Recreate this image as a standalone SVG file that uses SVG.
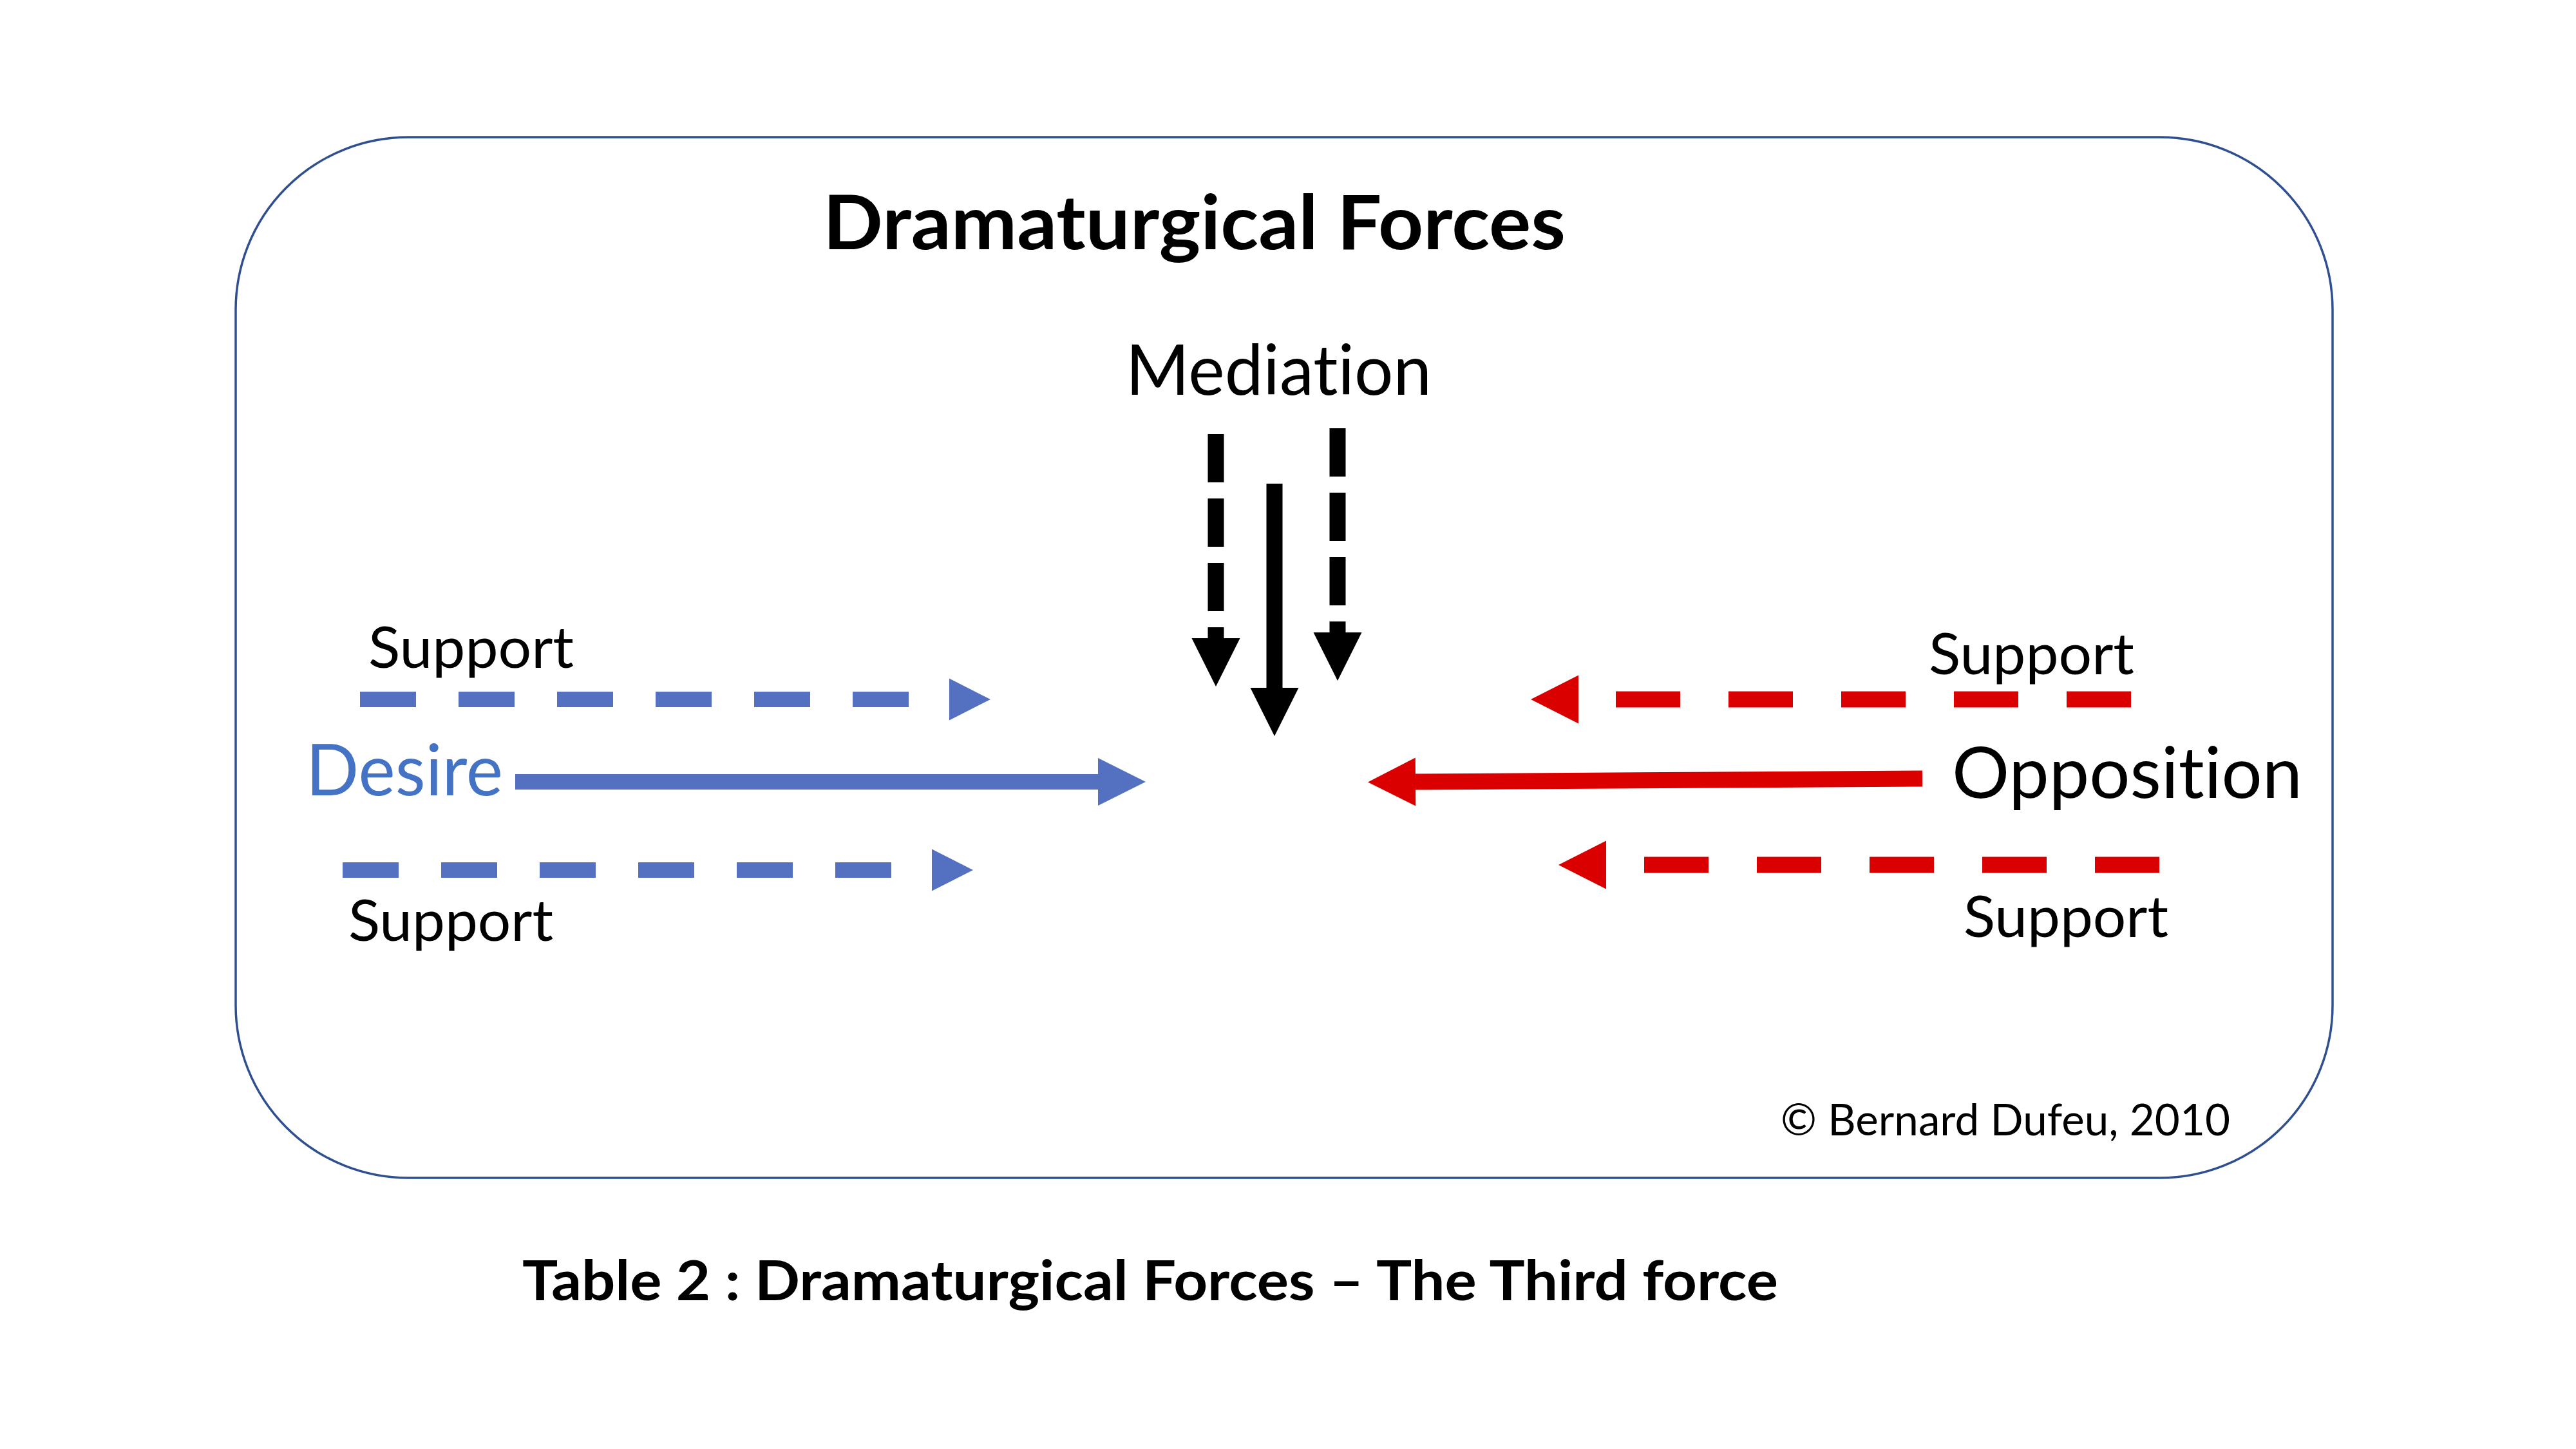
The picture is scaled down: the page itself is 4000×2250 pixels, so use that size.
<svg xmlns="http://www.w3.org/2000/svg" width="4000" height="2250" viewBox="0 0 4000 2250">
  <style>
    text { font-family: Lato, "Open Sans", "Liberation Sans", sans-serif; fill: #000; font-variant-ligatures: none; font-feature-settings: "liga" 0, "clig" 0, "dlig" 0; }
    .bold { font-weight: 700; }
    .support { font-size: 90px; }
    .blue { stroke: #5470C1; fill: none; stroke-width: 24; }
    .red { stroke: #DA0000; fill: none; stroke-width: 25; }
    .black { stroke: #000; fill: none; stroke-width: 25; }
    .dashBlue { stroke-dasharray: 87 66; }
    .dashRed { stroke-dasharray: 100 75; }
    .dashBlack { stroke-dasharray: 75 25; }
  </style>
  <defs>
    <marker id="headBlueSm" markerUnits="userSpaceOnUse" viewBox="0 -40 80 80" markerWidth="80" markerHeight="80" refX="0" refY="0" orient="auto" overflow="visible">
      <path d="M0,-32.5 L64,0 L0,32.5 z" fill="#5470C1"/>
    </marker>
    <marker id="headBlue" markerUnits="userSpaceOnUse" viewBox="0 -40 80 80" markerWidth="80" markerHeight="80" refX="0" refY="0" orient="auto" overflow="visible">
      <path d="M0,-37 L74,0 L0,37 z" fill="#5470C1"/>
    </marker>
    <marker id="headRed" markerUnits="userSpaceOnUse" viewBox="0 -40 80 80" markerWidth="80" markerHeight="80" refX="0" refY="0" orient="auto" overflow="visible">
      <path d="M0,-37.5 L74,0 L0,37.5 z" fill="#DA0000"/>
    </marker>
    <marker id="headBlack" markerUnits="userSpaceOnUse" viewBox="0 -40 80 80" markerWidth="80" markerHeight="80" refX="0" refY="0" orient="auto" overflow="visible">
      <path d="M0,-37.5 L75,0 L0,37.5 z" fill="#000"/>
    </marker>
  </defs>

  <rect width="4000" height="2250" fill="#fff"/>

  <g id="frame">
    <rect x="366" y="213" width="3256" height="1616" rx="268" ry="268" fill="none" stroke="#2F4F91" stroke-width="3.5"/>
  </g>

  <g id="title">
    <text class="bold" x="1278" y="387" font-size="117" textLength="1153" lengthAdjust="spacingAndGlyphs">Dramaturgical Forces</text>
  </g>

  <g id="mediation">
    <text x="1748" y="613" font-size="108" textLength="475" lengthAdjust="spacingAndGlyphs">Mediation</text>
  </g>

  <g id="desire">
    <text x="475" y="1235" font-size="110" style="fill:#4472C4" textLength="306" lengthAdjust="spacingAndGlyphs">Desire</text>
  </g>

  <g id="opposition">
    <text x="3031" y="1239" font-size="111" textLength="544" lengthAdjust="spacingAndGlyphs">Opposition</text>
  </g>

  <g id="support-desire-top">
    <text class="support" x="572" y="1037" textLength="319" lengthAdjust="spacingAndGlyphs">Support</text>
  </g>
  <g id="support-desire-bottom">
    <text class="support" x="541" y="1461" textLength="318" lengthAdjust="spacingAndGlyphs">Support</text>
  </g>
  <g id="support-opposition-top">
    <text class="support" x="2995" y="1047" textLength="319" lengthAdjust="spacingAndGlyphs">Support</text>
  </g>
  <g id="support-opposition-bottom">
    <text class="support" x="3049" y="1455" textLength="318" lengthAdjust="spacingAndGlyphs">Support</text>
  </g>

  <g id="copyright">
    <text x="2765" y="1763" font-size="68" textLength="698" lengthAdjust="spacingAndGlyphs">© Bernard Dufeu, 2010</text>
  </g>

  <g id="caption">
    <text class="bold" x="811" y="2019" font-size="86" textLength="1950" lengthAdjust="spacingAndGlyphs">Table 2 : Dramaturgical Forces – The Third force</text>
  </g>

  <g id="connectors">
    <!-- mediation arrows -->
    <line class="black dashBlack" x1="1888" y1="674" x2="1888" y2="991" marker-end="url(#headBlack)"/>
    <line class="black" x1="1979" y1="751" x2="1979" y2="1068" marker-end="url(#headBlack)"/>
    <line class="black dashBlack" x1="2077" y1="665" x2="2077" y2="982" marker-end="url(#headBlack)"/>
    <!-- desire arrows -->
    <line class="blue dashBlue" x1="559" y1="1086" x2="1474" y2="1086" marker-end="url(#headBlueSm)"/>
    <line class="blue" x1="800" y1="1214" x2="1705" y2="1214" stroke-width="25" marker-end="url(#headBlue)"/>
    <line class="blue dashBlue" x1="532" y1="1351" x2="1447" y2="1351" marker-end="url(#headBlueSm)"/>
    <!-- opposition arrows -->
    <line class="red dashRed" x1="3309" y1="1086" x2="2451" y2="1086" marker-end="url(#headRed)"/>
    <line class="red" x1="2985" y1="1209" x2="2198" y2="1214" marker-end="url(#headRed)"/>
    <line class="red dashRed" x1="3353" y1="1343" x2="2494" y2="1343" marker-end="url(#headRed)"/>
  </g>
</svg>
